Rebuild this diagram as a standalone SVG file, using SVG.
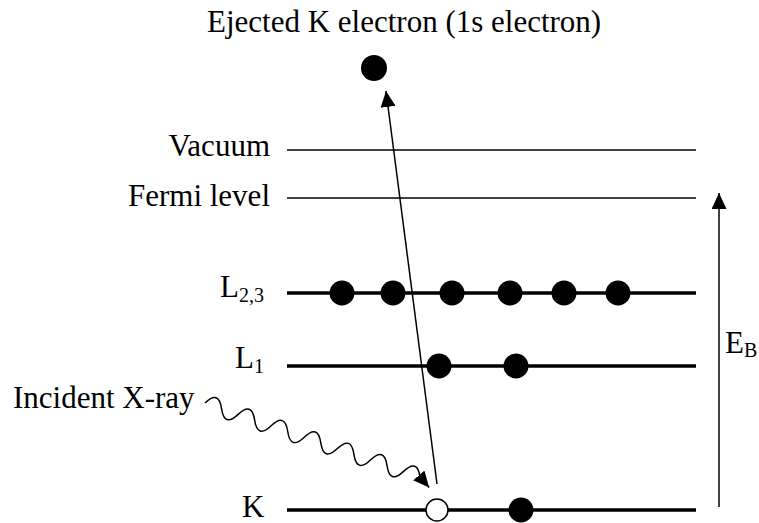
<svg xmlns="http://www.w3.org/2000/svg" width="759" height="523" viewBox="0 0 759 523">
<style>
text{font-family:"Liberation Serif","DejaVu Serif",serif;font-size:31px;fill:#000}
.sub{font-size:20px}
.thin{stroke:#000;stroke-width:1.5;fill:none}
.thick{stroke:#000;stroke-width:3.5;fill:none}
.dot{fill:#000}
</style>
<defs>
<marker id="ah" markerUnits="userSpaceOnUse" markerWidth="16" markerHeight="15" refX="16" refY="7.5" orient="auto">
<path d="M0,0 L16,7.5 L0,15 z" fill="#000"/>
</marker>
</defs>
<g id="title"><text x="207" y="32">Ejected K electron (1s electron)</text></g>
<g id="ejected-electron"><circle class="dot" cx="374" cy="68" r="13"/></g>
<g id="vacuum"><text x="270" y="156" text-anchor="end">Vacuum</text><line class="thin" x1="287" y1="150" x2="696" y2="150"/></g>
<g id="fermi"><text x="270" y="206" text-anchor="end">Fermi level</text><line class="thin" x1="287" y1="198" x2="696" y2="198"/></g>
<g id="L23"><text x="220" y="297">L<tspan class="sub" dy="5">2,3</tspan></text><line class="thick" x1="287" y1="293" x2="696" y2="293"/>
<circle class="dot" cx="342" cy="293" r="12.5"/><circle class="dot" cx="393" cy="293" r="12.5"/><circle class="dot" cx="452" cy="293" r="12.5"/><circle class="dot" cx="510" cy="293" r="12.5"/><circle class="dot" cx="564" cy="293" r="12.5"/><circle class="dot" cx="618" cy="293" r="12.5"/></g>
<g id="L1"><text x="235" y="368">L<tspan class="sub" dy="5">1</tspan></text><line class="thick" x1="287" y1="366" x2="696" y2="366"/>
<circle class="dot" cx="439" cy="366" r="12.5"/><circle class="dot" cx="516" cy="366" r="12.5"/></g>
<g id="K"><text x="242" y="517">K</text><line class="thick" x1="287" y1="510" x2="696" y2="510"/>
<circle class="dot" cx="521" cy="510" r="12.5"/><circle cx="437" cy="510" r="11" fill="#fff" stroke="#000" stroke-width="1.5"/></g>
<g id="incident"><text x="13" y="408">Incident X-ray</text></g>
<g id="EB"><text x="725" y="353">E<tspan class="sub" dy="4">B</tspan></text></g>
<g id="connectors">
<line class="thin" x1="437" y1="484" x2="386" y2="91" marker-end="url(#ah)"/>
<line class="thin" x1="719" y1="507" x2="719" y2="193" marker-end="url(#ah)"/>
<path class="thin" transform="translate(205,403) rotate(19)" d="M0,0 q8.75,-17 17.5,0 t17.5,0 t17.5,0 t17.5,0 t17.5,0 t17.5,0 t17.5,0 t17.5,0 t17.5,0 t17.5,0 t17.5,0 t17.5,0 t17.5,0 l12,7" marker-end="url(#ah)"/>
</g>
</svg>
